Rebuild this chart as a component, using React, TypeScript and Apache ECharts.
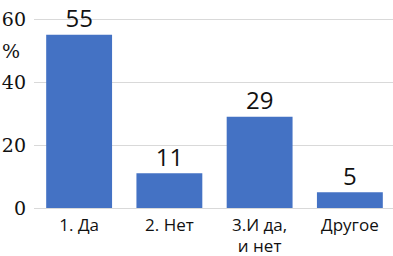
import React, { useEffect, useRef } from "react";
import * as echarts from "echarts";

const categories = ["1. Да", "2. Нет", "3.И да,\nи нет", "Другое"];
const values = [55, 11, 29, 5];
const yTicks = [0, 20, 40, 60];

const SERIF = "DejaVu Serif";

export default function App() {
  const ref = useRef<HTMLDivElement>(null);
  useEffect(() => {
    const chart = echarts.init(ref.current!, null, { renderer: "svg" });
    chart.setOption({
      animation: false,
      grid: { left: 34, right: -2, top: 19, bottom: 48, outerBoundsMode: "none", containLabel: false },
      xAxis: {
        type: "category",
        data: categories,
        axisLine: { show: false },
        axisTick: { show: false },
        axisLabel: {
          fontFamily: "Open Sans",
          fontSize: 17,
          color: "#111",
          margin: 6,
          lineHeight: 21,
          interval: 0,
        },
      },
      yAxis: {
        type: "value",
        min: 0,
        max: 60,
        interval: 20,
        axisLine: { show: false },
        axisTick: { show: false },
        splitLine: { lineStyle: { color: "#d9d9d9", width: 1 } },
        axisLabel: {
          fontFamily: SERIF,
          fontSize: 19,
          color: "#111",
          margin: 8,
          formatter: (v: number) => (yTicks.includes(v) ? String(v) : ""),
        },
      },
      graphic: [
        {
          type: "text",
          left: 2,
          top: 41,
          style: { text: "%", font: "19px " + SERIF, fill: "#111" },
        },
      ],
      series: [
        {
          type: "bar",
          data: values,
          barWidth: "73%",
          itemStyle: { color: "#4472c4" },
          label: {
            show: true,
            position: "top",
            distance: 5,
            fontFamily: "Open Sans",
            fontSize: 24,
            color: "#111",
          },
        },
      ],
    });
    return () => chart.dispose();
  }, []);
  return (
    <div
      ref={ref}
      style={{ position: "fixed", left: 0, top: 0, width: 393, height: 256, background: "#fff" }}
    />
  );
}
